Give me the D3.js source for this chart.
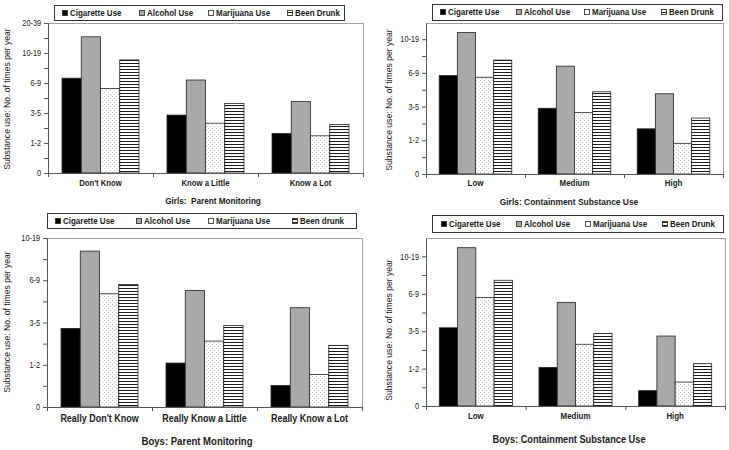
<!DOCTYPE html>
<html><head><meta charset="utf-8">
<script src="https://cdn.jsdelivr.net/npm/d3@7"></script>
<style>
body{margin:0;background:#fff}
svg{display:block}
text{font-family:"Liberation Sans",Arial,Helvetica,sans-serif;fill:#1a1a1a}
</style>
</head><body>
<svg id="chart" width="729" height="450"></svg>
<script>
// ---------------- DATA ----------------
const seriesNames = ["Cigarette Use", "Alcohol Use", "Marijuana Use", "Been Drunk"];
const seriesNamesBoysMonitoring = ["Cigarette Use", "Alcohol Use", "Marijuana Use", "Been drunk"];

const girlsMonitoringCategories = ["Don't Know", "Know a Little", "Know a Lot"];
const girlsContainmentCategories = ["Low", "Medium", "High"];
const boysMonitoringCategories = ["Really Don't Know", "Really Know a Little", "Really Know a Lot"];
const boysContainmentCategories = ["Low", "Medium", "High"];

// ordinal frequency scale: 0="0", 1="1-2", 2="3-5", 3="6-9", 4="10-19", 5="20-39"
const frequencyLabels = ["0", "1-2", "3-5", "6-9", "10-19", "20-39"];

const girlsMonitoringCigarette = [3.16, 1.93, 1.32];
const girlsMonitoringAlcohol   = [4.54, 3.10, 2.38];
const girlsMonitoringMarijuana = [2.82, 1.66, 1.24];
const girlsMonitoringDrunk     = [3.77, 2.32, 1.62];

const girlsContainmentCigarette = [2.92, 1.95, 1.34];
const girlsContainmentAlcohol   = [4.20, 3.20, 2.38];
const girlsContainmentMarijuana = [2.87, 1.82, 0.91];
const girlsContainmentDrunk     = [3.38, 2.44, 1.66];

const boysMonitoringCigarette = [1.86, 1.04, 0.51];
const boysMonitoringAlcohol   = [3.69, 2.76, 2.35];
const boysMonitoringMarijuana = [2.68, 1.56, 0.77];
const boysMonitoringDrunk     = [2.90, 1.93, 1.46];

const boysContainmentCigarette = [2.09, 1.03, 0.41];
const boysContainmentAlcohol   = [4.23, 2.77, 1.87];
const boysContainmentMarijuana = [2.90, 1.65, 0.64];
const boysContainmentDrunk     = [3.36, 1.94, 1.13];

const panelTitles = ["Girls:  Parent Monitoring", "Girls: Containment Substance Use",
                     "Boys: Parent Monitoring", "Boys: Containment Substance Use"];
const yAxisTitle = "Substance use: No. of times per year";

// ---------------- LAYOUT ----------------
const panels = [
  {cats: girlsMonitoringCategories, names: seriesNames,
   values: [girlsMonitoringCigarette, girlsMonitoringAlcohol, girlsMonitoringMarijuana, girlsMonitoringDrunk],
   yMax: 5, nLabels: 6, title: panelTitles[0],
   box: {l: 48, r: 363, t: 23, b: 173},
   legend: {x: 54, y: 5, w: 290, h: 15, m: [62, 139, 208, 287]},
   catY: 186, catFs: 8.9, titleX: 213, titleY: 203.5, titleFs: 9.4, yTitleX: 10, yTitleY: 99},
  {cats: girlsContainmentCategories, names: seriesNames,
   values: [girlsContainmentCigarette, girlsContainmentAlcohol, girlsContainmentMarijuana, girlsContainmentDrunk],
   yMax: 4.48, nLabels: 5, title: panelTitles[1],
   box: {l: 426, r: 723, t: 23, b: 174},
   legend: {x: 432, y: 4, w: 290, h: 16, m: [440, 516, 584, 661]},
   catY: 186, catFs: 9.1, titleX: 569, titleY: 204.5, titleFs: 9.7, yTitleX: 392, yTitleY: 100},
  {cats: boysMonitoringCategories, names: seriesNamesBoysMonitoring,
   values: [boysMonitoringCigarette, boysMonitoringAlcohol, boysMonitoringMarijuana, boysMonitoringDrunk],
   yMax: 4, nLabels: 5, title: panelTitles[2],
   box: {l: 47, r: 362, t: 238, b: 407},
   legend: {x: 47, y: 213, w: 309, h: 15, m: [55, 136, 208, 292]},
   catY: 422, catFs: 10.3, titleX: 197, titleY: 445, titleFs: 11, yTitleX: 10, yTitleY: 322},
  {cats: boysContainmentCategories, names: seriesNames,
   values: [boysContainmentCigarette, boysContainmentAlcohol, boysContainmentMarijuana, boysContainmentDrunk],
   yMax: 4.49, nLabels: 5, title: panelTitles[3],
   box: {l: 426, r: 725, t: 238, b: 406},
   legend: {x: 432, y: 215, w: 291, h: 17, m: [441, 516, 585, 662]},
   catY: 419, catFs: 9.1, titleX: 569, titleY: 443, titleFs: 10.6, yTitleX: 392, yTitleY: 330}
];

const SX = 0.87; // horizontal text compression seen in the reference
const svg = d3.select("#chart");
const defs = svg.append("defs");

// dotted pattern (marijuana)
const dots = defs.append("pattern").attr("id", "dots").attr("patternUnits", "userSpaceOnUse")
  .attr("width", 4).attr("height", 4);
dots.append("rect").attr("width", 4).attr("height", 4).attr("fill", "#fff");
dots.append("rect").attr("x", 0).attr("y", 0).attr("width", 1).attr("height", 1).attr("fill", "#c2c2c2");
dots.append("rect").attr("x", 2).attr("y", 2).attr("width", 1).attr("height", 1).attr("fill", "#c2c2c2");

// horizontal stripes (been drunk)
const stripes = defs.append("pattern").attr("id", "stripes").attr("patternUnits", "userSpaceOnUse")
  .attr("width", 4).attr("height", 3);
stripes.append("rect").attr("width", 4).attr("height", 3).attr("fill", "#fff");
stripes.append("rect").attr("x", 0).attr("y", 0).attr("width", 4).attr("height", 1).attr("fill", "#1a1a1a");

const fills = ["#000", "#a9a9a9", "url(#dots)", "url(#stripes)"];

function ctext(g, x, y, str, size, weight, anchor) {
  return g.append("text")
    .attr("transform", `translate(${x},${y}) scale(${SX},1)`)
    .attr("text-anchor", anchor || "start")
    .style("font-size", size + "px")
    .style("font-weight", weight || "normal")
    .style("white-space", "pre")
    .text(str);
}

function drawPanel(p) {
  const g = svg.append("g");
  const {l, r, t, b} = p.box;
  const y = d3.scaleLinear().domain([0, p.yMax]).range([b, t]);
  const x = d3.scaleBand().domain(p.cats).range([l, r]).paddingInner(0.267).paddingOuter(0.1335);
  const xs = d3.scaleBand().domain(d3.range(p.values.length)).range([0, x.bandwidth()]);

  // plot area border
  g.append("rect").attr("x", l + 0.5).attr("y", t + 0.5)
    .attr("width", r - l).attr("height", b - t)
    .attr("fill", "#fff").attr("stroke", "#a0a0a0").attr("stroke-width", 1);

  // bars
  p.values.forEach((vals, si) => {
    g.append("g").selectAll("rect").data(vals).join("rect")
      .attr("x", (v, i) => x(p.cats[i]) + xs(si))
      .attr("y", v => y(v))
      .attr("width", xs.bandwidth())
      .attr("height", v => y(0) - y(v))
      .attr("fill", fills[si])
      .attr("stroke", "#222").attr("stroke-width", 0.8);
  });

  // y axis: minor ticks
  const yMinor = g.append("g").attr("transform", `translate(${l},0)`)
    .call(d3.axisLeft(y).tickValues(d3.range(0.5, p.yMax, 1)).tickSize(4).tickSizeOuter(0).tickFormat(""));
  yMinor.select(".domain").remove();
  yMinor.selectAll("line").attr("stroke", "#555");
  // y axis: major ticks + labels
  const yMajor = g.append("g").attr("transform", `translate(${l},0)`)
    .call(d3.axisLeft(y).tickValues(d3.range(0, p.nLabels)).tickSize(4).tickSizeOuter(0)
      .tickFormat(i => frequencyLabels[i]));
  yMajor.select(".domain").attr("stroke", "#555");
  yMajor.selectAll("line").attr("stroke", "#555");
  yMajor.selectAll("text")
    .attr("x", -7 / SX).attr("transform", `scale(${SX},1)`)
    .style("font-size", "8.4px").style("font-family", null).attr("fill", "#222");

  // x axis: category boundary ticks
  const xb = d3.scaleLinear().domain([0, p.cats.length]).range([l, r]);
  const xAxis = g.append("g").attr("transform", `translate(0,${b})`)
    .call(d3.axisBottom(xb).tickValues(d3.range(0, p.cats.length + 1)).tickSize(4).tickSizeOuter(0).tickFormat(""));
  xAxis.select(".domain").attr("stroke", "#555");
  xAxis.selectAll("line").attr("stroke", "#555");

  // category labels
  const catAxis = g.append("g").attr("transform", `translate(0,${b})`)
    .call(d3.axisBottom(x).tickSize(0));
  catAxis.select(".domain").remove();
  catAxis.selectAll("text")
    .attr("x", 0).attr("y", p.catY - b).attr("dy", 0).attr("transform", `scale(${SX},1)`)
    .style("font-size", p.catFs + "px").style("font-weight", "bold").attr("fill", "#1a1a1a");

  // title
  ctext(g, p.titleX, p.titleY, p.title, p.titleFs, "bold", "middle");

  // y title
  g.append("text")
    .attr("transform", `translate(${p.yTitleX},${p.yTitleY}) rotate(-90)`)
    .attr("text-anchor", "middle")
    .style("font-size", "8.6px")
    .attr("fill", "#222")
    .text(yAxisTitle);

  // legend
  const L = p.legend;
  const lg = g.append("g");
  lg.append("rect").attr("x", L.x + 0.5).attr("y", L.y + 0.5).attr("width", L.w).attr("height", L.h)
    .attr("fill", "#fff").attr("stroke", "#333").attr("stroke-width", 1);
  const cy = L.y + L.h / 2;
  p.names.forEach((name, i) => {
    const mx = L.m[i];
    lg.append("rect").attr("x", mx + 0.5).attr("y", Math.round(cy - 3) + 0.5)
      .attr("width", 5).attr("height", 5)
      .attr("fill", i === 0 ? "#000" : (i === 1 ? "#a9a9a9" : (i === 2 ? "#fff" : "url(#stripes)")))
      .attr("stroke", "#222").attr("stroke-width", 0.8);
    ctext(lg, mx + 8, cy + 3.3, name, 9.2, "bold", "start");
  });
}

panels.forEach(drawPanel);
</script>
</body></html>
